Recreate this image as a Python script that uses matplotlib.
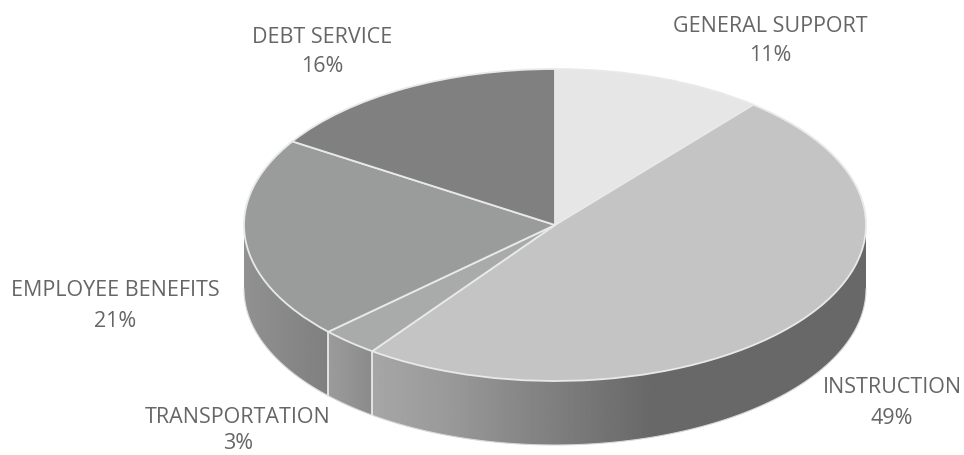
import numpy as np
import matplotlib
matplotlib.use('Agg')
import matplotlib.pyplot as plt
from matplotlib.patches import Polygon

categories = ['GENERAL SUPPORT', 'INSTRUCTION', 'TRANSPORTATION', 'EMPLOYEE BENEFITS', 'DEBT SERVICE']
shares = [11, 49, 3, 21, 16]

top_colors = ['#e6e6e6', '#c4c4c4', '#a9abaa', '#9a9c9b', '#808080']
# wall shading: x in px and grey level, left to right
wall_stops = {
    'INSTRUCTION': ([376, 450, 530, 650, 870], [0.65, 0.60, 0.52, 0.41, 0.41]),
    'TRANSPORTATION': ([329, 376], [0.61, 0.54]),
    'EMPLOYEE BENEFITS': ([243, 329], [0.57, 0.50]),
}
# label centre x, baseline of name line, baseline of percent line (px)
label_pos = [(770, 32, 61), (892, 393, 424), (238, 423, 449), (115, 296, 327), (322, 43, 72)]

W, H = 964, 455
CX, CY, RX, RY, DEPTH = 555, 225, 311, 156, 64

plt.rcParams['font.family'] = ['Open Sans', 'DejaVu Sans']

fig = plt.figure(figsize=(W / 100, H / 100), dpi=100)
ax = fig.add_axes([0, 0, 1, 1])

# unit pie squashed by the axis limits
ax.pie(shares, colors=top_colors, startangle=90, counterclock=False, radius=1,
       wedgeprops={'edgecolor': '#e9e9e9', 'linewidth': 1.3, 'zorder': 5})
ax.set_aspect('auto')
depth = DEPTH / RY

# front walls
edges = np.cumsum([0] + shares) / sum(shares) * 360
for i, name in enumerate(categories):
    t0, t1 = max(edges[i], 90), min(edges[i + 1], 270)
    if t0 >= t1:
        continue
    t = np.radians(np.linspace(t0, t1, 120))
    x, y = np.sin(t), np.cos(t)
    outline = np.column_stack([np.r_[x, x[::-1]], np.r_[y, y[::-1] - depth]])
    px, greys = wall_stops[name]
    xs = np.linspace(x.min(), x.max(), 400)
    shade = np.interp(xs * RX + CX, px, greys)[None, :]
    im = ax.imshow(shade, cmap='gray', vmin=0, vmax=1, aspect='auto', zorder=2,
                   extent=[x.min(), x.max(), y.min() - depth, y.max()])
    clip = Polygon(outline, closed=True, transform=ax.transData)
    im.set_clip_path(clip)
    # rim and seams
    ax.plot(x, y - depth, color='#d8d8d8', lw=0.8, zorder=3)
    if edges[i + 1] < 270:
        ax.plot([x[-1], x[-1]], [y[-1], y[-1] - depth], color='#e9e9e9', lw=1.3, zorder=4)

ax.set_xlim((0 - CX) / RX, (W - CX) / RX)
ax.set_ylim((CY - H) / RY, CY / RY)
ax.axis('off')

for name, val, (lx, y_name, y_pct) in zip(categories, shares, label_pos):
    fig.text(lx / W, 1 - y_name / H, name, ha='center', va='baseline',
             fontsize=15.5, color='#666666')
    fig.text(lx / W, 1 - y_pct / H, f'{val}%', ha='center', va='baseline',
             fontsize=15.5, color='#666666')

fig.savefig('out.png', dpi=100)
plt.close(fig)
